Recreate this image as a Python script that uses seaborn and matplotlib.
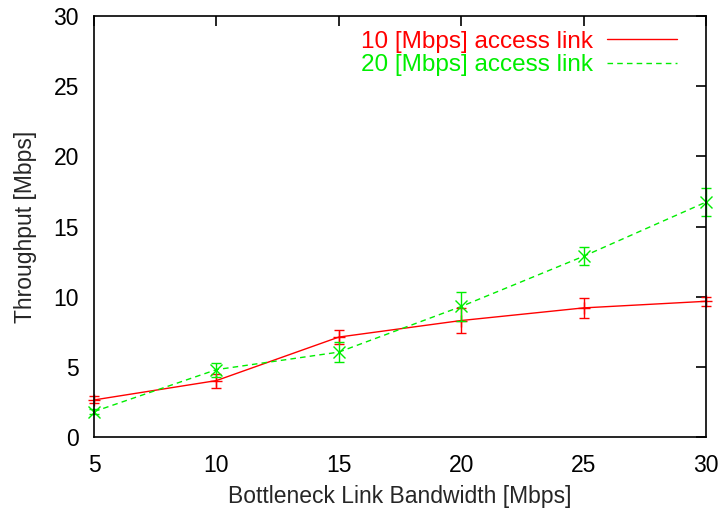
import numpy as np
import pandas as pd
import matplotlib
matplotlib.use("Agg")
import matplotlib.pyplot as plt
import seaborn as sns
from matplotlib.lines import Line2D

bandwidth = [5, 10, 15, 20, 25, 30]
tp_10 = [2.64, 4.02, 7.12, 8.3, 9.2, 9.67]
err_10 = [0.25, 0.5, 0.5, 0.9, 0.7, 0.3]
tp_20 = [1.81, 4.8, 6.05, 9.3, 12.88, 16.74]
err_20 = [0.15, 0.5, 0.7, 1.05, 0.65, 1.0]

sns.set_style("white")
plt.rcParams['font.family'] = ['Liberation Sans', 'DejaVu Sans']

df = pd.DataFrame({
    'bw': bandwidth * 2,
    'tp': tp_10 + tp_20,
    'err': err_10 + err_20,
    'link': ['10 [Mbps] access link'] * 6 + ['20 [Mbps] access link'] * 6,
})

fig = plt.figure(figsize=(7.22, 5.21), dpi=100)
ax = fig.add_axes([94 / 722, 84 / 521, 612 / 722, 421 / 521])

colors = {'10 [Mbps] access link': '#ff0000', '20 [Mbps] access link': '#00ee00'}
sns.lineplot(data=df, x='bw', y='tp', hue='link', style='link', palette=colors,
             dashes={'10 [Mbps] access link': '', '20 [Mbps] access link': (4, 3)},
             linewidth=1.0, ax=ax, legend=False)

# gnuplot style point types: + for first, x for second
marks = {'10 [Mbps] access link': '+', '20 [Mbps] access link': 'x'}
for name, sub in df.groupby('link'):
    ax.errorbar(sub['bw'], sub['tp'], yerr=sub['err'], fmt='none', ecolor=colors[name],
                elinewidth=1.0, capsize=3.8, capthick=1.0, clip_on=False)
    ax.plot(sub['bw'], sub['tp'], ls='none', marker=marks[name], color=colors[name],
            markersize=8, markeredgewidth=1.0, clip_on=False)

ax.set_xlim(5, 30)
ax.set_ylim(0, 30)
ax.set_xticks([5, 10, 15, 20, 25, 30])
ax.set_yticks([0, 5, 10, 15, 20, 25, 30])
ax.tick_params(direction='in', length=7.2, width=1.2, top=True, right=True,
               labelsize=16.5, colors='black')
ax.tick_params(axis='x', pad=12)
ax.tick_params(axis='y', pad=10.8)
for s in ax.spines.values():
    s.set_color('black')
    s.set_linewidth(1.2)
ax.set_xlabel('Bottleneck Link Bandwidth [Mbps]', fontsize=16.5, labelpad=6)
ax.set_ylabel('Throughput [Mbps]', fontsize=16.5, labelpad=12)

handles = [Line2D([], [], color='#ff0000', lw=1.0),
           Line2D([], [], color='#00ee00', lw=1.0, dashes=(4, 3))]
leg = ax.legend(handles, list(colors.keys()), loc='upper right', markerfirst=False,
                frameon=False, fontsize=17.5, handlelength=2.85, handletextpad=0.58,
                labelspacing=0.05, borderaxespad=0.0, bbox_to_anchor=(0.968, 0.988))
for t, c in zip(leg.get_texts(), colors.values()):
    t.set_color(c)

fig.savefig('out.png', dpi=100)
